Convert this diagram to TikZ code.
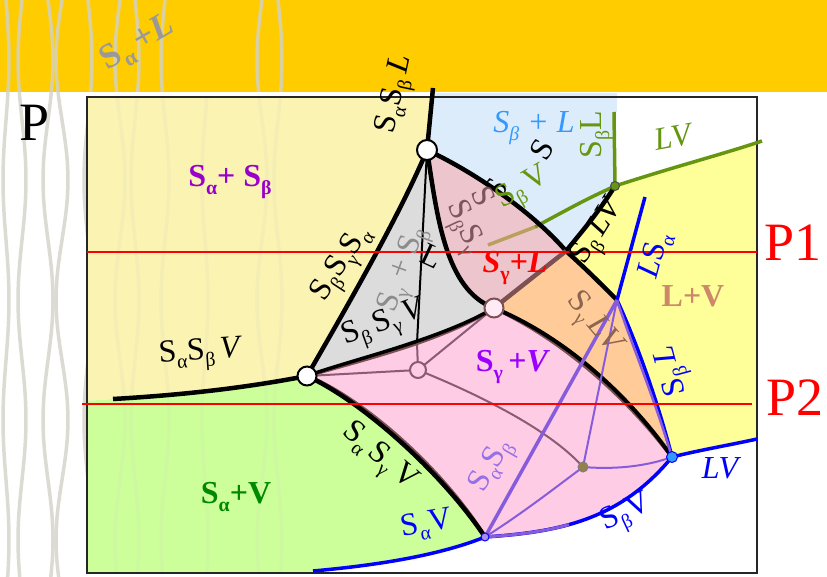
\documentclass[tikz,border=0pt]{standalone}
\usepackage{fontspec}
\setmainfont{Liberation Serif}
\definecolor{band}{RGB}{255,204,0}
\definecolor{sayel}{RGB}{250,243,178}
\definecolor{sagrn}{RGB}{204,255,153}
\definecolor{lvyel}{RGB}{255,255,153}
\definecolor{sblue}{RGB}{220,236,250}
\definecolor{tgray}{RGB}{220,220,220}
\definecolor{rosy}{RGB}{237,198,205}
\definecolor{orng}{RGB}{255,204,153}
\definecolor{pnk}{RGB}{255,204,230}
\definecolor{mauve}{RGB}{140,90,115}
\definecolor{brn}{RGB}{125,80,82}
\definecolor{purp}{RGB}{135,92,220}
\definecolor{olgrn}{RGB}{102,150,16}
\definecolor{khaki}{RGB}{185,160,95}
\definecolor{streakc}{RGB}{210,210,200}
\definecolor{vio}{RGB}{153,0,204}
\definecolor{vio2}{RGB}{153,0,255}
\definecolor{skyb}{RGB}{51,153,255}
\definecolor{lvtan}{RGB}{205,135,105}
\definecolor{lbrn}{RGB}{140,100,80}
\definecolor{dkrose}{RGB}{125,85,92}
\definecolor{lpurp}{RGB}{150,112,230}
\definecolor{dgrn}{RGB}{0,136,0}
\newcommand{\ix}[1]{\raisebox{-0.5ex}{\scalebox{0.62}{#1}}}

\begin{document}
\begin{tikzpicture}[x=1pt,y=-1pt,
  bnd/.style={line width=4.5pt,black},
  shd/.style={line width=4pt,brn},
  blu/.style={line width=3.5pt,blue},
  grn/.style={line width=3.5pt,olgrn},
  mv/.style={line width=2pt,mauve},
  pur/.style={line width=2pt,purp},
  redln/.style={line width=1.5pt,red},
  streak/.style={line width=3.5pt,streakc},
  lab/.style={inner sep=0pt,font=\fontsize{32}{34}\selectfont},
  big/.style={inner sep=0pt,font=\fontsize{54}{56}\selectfont},
  inv/.style={circle,draw=black,fill=white,line width=2pt,inner sep=0pt,minimum size=19pt}]
\useasboundingbox (0,0) rectangle (827,577);

\coordinate (t1) at (427,150);
\coordinate (t2) at (307,376);
\coordinate (m) at (494,308);
\coordinate (p) at (566,251);
\coordinate (g) at (615,186);
\coordinate (q) at (617,300);
\coordinate (r) at (672,457);
\coordinate (b) at (485,537);
\coordinate (d) at (583,467);
\coordinate (n1) at (418,370);
\coordinate (j) at (417,343);
\coordinate (sabl) at (433,88);
\coordinate (sabv) at (113,399);
\coordinate (sav) at (313,571);
\coordinate (gv) at (614,112);
\coordinate (glv) at (762,141);
\coordinate (gk) at (535,227);
\coordinate (gend) at (488,245);
\coordinate (lsa) at (645,197);
\coordinate (lv) at (757,439);

\fill[band] (0,0) rectangle (827,92);
\fill[sayel] (87,97) -- (433,97) -- (t1) .. controls (400,215) and (345,310) .. (t2)
  .. controls (260,385) and (200,394) .. (sabv) -- (87,401) -- cycle;
\fill[sagrn] (87,401) -- (sabv) .. controls (200,394) and (260,385) .. (t2)
  .. controls (360,400) and (440,470) .. (b) .. controls (440,555) and (380,565) .. (sav)
  -- (313,573) -- (87,573) -- cycle;
\fill[lvyel] (g) .. controls (680,165) and (720,155) .. (757,143) -- (lv)
  .. controls (730,445) and (700,450) .. (r) -- (q) -- (p) .. controls (585,228) and (600,210) .. (g);
\fill[sblue] (433,93) -- (617,93) -- (617,112) -- (gv) -- (g) .. controls (600,210) and (585,228) .. (p)
  .. controls (535,215) and (480,175) .. (t1) -- (sabl) -- cycle;
\node[lab,rotate=60] (hidS) at (496,189) {S};
\fill[tgray] (t2) .. controls (345,310) and (400,215) .. (t1) .. controls (437,215) and (445,290) .. (m)
  .. controls (440,340) and (350,360) .. (t2);
\fill[rosy] (t1) .. controls (480,175) and (535,215) .. (p) -- (m) .. controls (445,290) and (437,215) .. (t1);
\fill[orng] (m) -- (p) .. controls (585,268) and (600,283) .. (q) .. controls (630,340) and (655,400) .. (r)
  .. controls (625,390) and (560,335) .. (m);
\fill[pnk] (t2) .. controls (350,360) and (440,340) .. (m) .. controls (560,335) and (625,390) .. (r)
  .. controls (620,520) and (560,532) .. (b) .. controls (440,470) and (360,400) .. (t2);

\begin{scope}[opacity=0.8]
\clip (0,0) rectangle (87,577) (87,0) rectangle (827,92);
\foreach \sx/\sa in {6/3,22/-4,48/5,62/-6,88/4,120/-5,135/4,165/-4,262/-5,278/4}
  \draw[streak] plot[variable=\t,domain=0:577,samples=30,smooth] ({\sx+\sa*sin(\t*1.5)},\t);
\end{scope}
\begin{scope}[opacity=0.15]
\clip (87,97) rectangle (300,573);
\foreach \sx/\sa in {120/-5,135/4,165/-4,205/3,262/-5,278/4}
  \draw[streak] plot[variable=\t,domain=0:577,samples=30,smooth] ({\sx+\sa*sin(\t*1.5)},\t);
\end{scope}

\draw[line width=1.5pt,black!85] (87,97) rectangle (757,573);

\draw[grn] (gv) -- (g);
\draw[grn] (g) .. controls (680,165) and (720,155) .. (glv);
\draw[grn] (g) .. controls (585,200) .. (gk);
\draw[line width=3.5pt,khaki] (gk) -- (gend);

\draw[bnd] (sabl) -- (t1);
\draw[bnd] (sabv) .. controls (200,394) and (260,385) .. (t2);
\draw[bnd] (t2) .. controls (345,310) and (400,215) .. (t1);
\draw[bnd] (t1) .. controls (437,215) and (445,290) .. (m);
\draw[bnd] (t1) .. controls (480,175) and (535,215) .. (p) .. controls (585,268) and (600,283) .. (q);
\draw[bnd] (p) .. controls (585,228) and (600,210) .. (g);
\draw[line width=4.5pt,brn] (m) -- (p);
\draw[line width=2pt] (t1) -- (j);

\draw[mv] (j) -- (n1);
\draw[mv] (t2) -- (n1);
\draw[mv] (n1) -- (m);
\draw[mv] (n1) .. controls (480,395) and (550,430) .. (d);

\draw[shd,shift={(0,2.5)}] (t2) .. controls (350,360) and (440,340) .. (m);
\draw[line width=3.5pt] (t2) .. controls (350,360) and (440,340) .. (m);
\draw[shd,shift={(-2,2)}] (m) .. controls (560,335) and (625,390) .. (r);
\draw[line width=4pt] (m) .. controls (560,335) and (625,390) .. (r);
\draw[shd,shift={(2,-2)}] (t2) .. controls (360,400) and (440,470) .. (b);
\draw[line width=4.5pt] (t2) .. controls (360,400) and (440,470) .. (b);

\draw[blu] (lsa) -- (q) .. controls (640,350) and (660,410) .. (r);
\draw[blu] (r) .. controls (700,450) and (730,445) .. (lv);
\draw[blu] (sav) .. controls (380,565) and (440,555) .. (b);
\draw[blu] (b) .. controls (560,532) and (620,520) .. (r);
\draw[pur,line width=3pt,dash pattern=on 85pt off 400pt] (b) .. controls (560,532) and (620,520) .. (r);

\draw[pur,line width=3.5pt] (b) -- (q);
\draw[pur] (q) -- (d);
\draw[pur] (d) .. controls (620,470) and (650,465) .. (r);
\draw[pur] (d) .. controls (555,488) and (520,515) .. (b);
\draw[pur,line width=2.5pt] (q) .. controls (630,340) and (655,400) .. (r);

\coordinate (p1a) at (87,252);
\coordinate (p1b) at (757,252);
\coordinate (p2a) at (82,404);
\coordinate (p2b) at (752,404);
\draw[redln] (p1a) -- (p1b);
\draw[redln] (p2a) -- (p2b);

\node[big] (lP) at (35,123) {P};
\node[big,red] (lP1) at (793,243) {P1};
\node[big,red] (lP2) at (795,398) {P2};

\node[lab,black!40,rotate=30,font=\fontsize{35}{37}\selectfont] (lSaL) at (138,44) {\bfseries S\ix{α}\,+\textit{L}};
\node[lab,rotate=78] (lSaSbL) at (397,95) {S\ix{α}S\ix{β}\,\textit{L}};
\node[lab,vio] (lSaSb) at (230,182) {\bfseries S\ix{α}+ S\ix{β}};
\node[lab,skyb] (lSbL) at (534,128) {\itshape S\ix{β} + L};
\node[lab,rotate=60] (lS) at (542,150) {S};
\node[lab,olgrn,rotate=30] (lSbV) at (524,190) {S\ix{β}\,V};
\node[lab,olgrn,rotate=90] (lSbLg) at (597,135) {S\ix{β}L};
\node[lab,olgrn,rotate=10] (lLVg) at (673,137) {\itshape LV};
\node[lab,dkrose,rotate=-65] (lSbSg) at (463,228) {S\ix{β}S\ix{γ}};
\node[lab,dkrose,rotate=-65] (lSx) at (484,196) {S};
\node[lab,red] (lSgL) at (515,268) {\bfseries\itshape S\ix{\upshape γ}+L};
\node[lab,rotate=58] (lSbLV) at (600,232) {S\ix{β}\,\textit{LV}};
\node[lab,blue,rotate=75] (lLSa) at (656,256) {\textit{L}S\ix{α}};
\node[lab,lvtan] (lLV) at (693,296) {\bfseries L+V};
\node[lab,lbrn,rotate=-50] (lSgLV) at (593,325) {S\ix{γ}\,\textit{LV}};
\node[lab,blue,rotate=105] (lSbLb) at (674,370) {S\ix{β}\,\textit{L}};
\node[lab,vio2] (lSgV) at (513,367) {\bfseries S\ix{γ}\,+\textit{V}};
\node[lab,black!45,rotate=70] (lSgSb) at (405,270) {S\ix{γ} + S\ix{β}};
\node[lab,rotate=-25] (lLx) at (432,256) {L};
\node[lab,rotate=20] (lSbSgV) at (385,325) {S\ix{β}\,S\ix{γ}\,\textit{V}};
\node[lab,rotate=57] (lSbSgSa) at (343,265) {S\ix{β}S\ix{γ}S\ix{α}};
\node[lab,rotate=4] (lSaSbV) at (201,355) {S\ix{α}S\ix{β}\,\textit{V}};
\node[lab,rotate=-40] (lSaSgV) at (378,458) {S\ix{α}\,S\ix{γ}\,V};
\node[lab,dgrn] (lSaV) at (236,497) {\bfseries S\ix{α}+V};
\node[lab,blue,rotate=10] (lSaVb) at (427,525) {S\ix{α}V};
\node[lab,blue,rotate=25] (lSbVb) at (627,515) {S\ix{β}V};
\node[lab,blue] (lLVb) at (720,468) {\itshape LV};
\node[lab,lpurp,rotate=60] (lSaSbp) at (493,467) {S\ix{α}S\ix{β}};

\node[inv,minimum size=20pt] (T1) at (t1) {};
\node[inv] (T2) at (t2) {};
\node[inv,draw=brn,fill=pnk!40] (M) at (m) {};
\node[inv,draw=mauve,fill=pnk,minimum size=16pt] (N1) at (n1) {};
\node[inv,draw=black!70,fill=olgrn,line width=1pt,minimum size=9pt] (G) at (g) {};
\node[inv,draw=black!50,fill=khaki!80!black,line width=1pt,minimum size=10pt] (D) at (d) {};
\node[inv,draw=blue,fill=purp!70,line width=1pt,minimum size=8pt] (B) at (b) {};
\node[inv,draw=blue,fill=skyb,line width=1pt,minimum size=11pt] (R) at (r) {};
\end{tikzpicture}
\end{document}
